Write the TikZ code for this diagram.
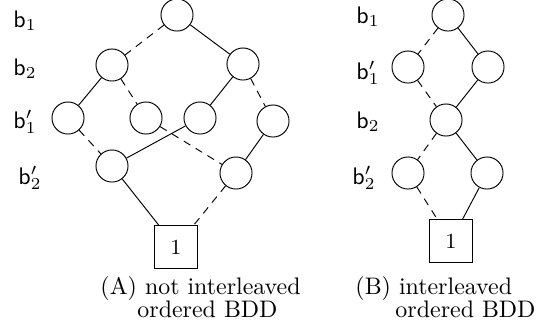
\documentclass[tikz,border=0pt]{standalone}
\begin{document}
\begin{tikzpicture}[x=0.418pt,y=-0.418pt,
  bnode/.style={circle,draw,minimum size=13.4pt,inner sep=0pt},
  term/.style={draw,minimum size=17.8pt,inner sep=0pt,font=\small},
  hi/.style={draw},
  lo/.style={draw,dash pattern=on 3.2pt off 2.6pt},
  lab/.style={anchor=base west,inner sep=0pt},
  captop/.style={anchor=base west,inner sep=0pt,text depth=0pt},
  capbot/.style={anchor=base west,inner sep=0pt,text height=5pt}]
\useasboundingbox (0,0) rectangle (538,329);
% left diagram
\node[bnode] (r) at (177,15) {};
\node[bnode] (a1) at (112,65) {};
\node[bnode] (a2) at (243,64) {};
\node[bnode] (c1) at (68,118) {};
\node[bnode] (c2) at (146,118) {};
\node[bnode] (c3) at (200,118) {};
\node[bnode] (c4) at (273,121) {};
\node[bnode] (d1) at (112,166) {};
\node[bnode] (d2) at (236,173) {};
\node[term] (t) at (176,247) {1};
\draw[lo] (r) -- (a1);
\draw[hi] (r) -- (a2);
\draw[hi] (a1) -- (c1);
\draw[lo] (a1) -- (c2);
\draw[hi] (a2) -- (c3);
\draw[lo] (a2) -- (c4);
\draw[lo] (c1) -- (d1);
\draw[lo] (c2) -- (d2);
\draw[hi] (c3) -- (d1);
\draw[hi] (c4) -- (d2);
\draw[hi] (d1) -- (t);
\draw[lo] (d2) -- (t);
\node[lab] (la1) at (13,27) {$\mathsf{b}_1$};
\node[lab] (la2) at (13,75) {$\mathsf{b}_2$};
\node[lab] (la3) at (13,128) {$\mathsf{b}_1'$};
\node[lab] (la4) at (18,184) {$\mathsf{b}_2'$};
% right diagram
\node[bnode] (R) at (448,15) {};
\node[bnode] (e1) at (408,67) {};
\node[bnode] (e2) at (488,67) {};
\node[bnode] (f) at (446,120) {};
\node[bnode] (g1) at (408,173) {};
\node[bnode] (g2) at (487,173) {};
\node[term] (T) at (451,241) {1};
\draw[lo] (R) -- (e1);
\draw[hi] (R) -- (e2);
\draw[lo] (e1) -- (f);
\draw[hi] (e2) -- (f);
\draw[lo] (f) -- (g1);
\draw[hi] (f) -- (g2);
\draw[lo] (g1) -- (T);
\draw[hi] (g2) -- (T);
\node[lab] (lb1) at (356,23) {$\mathsf{b}_1$};
\node[lab] (lb2) at (356,79) {$\mathsf{b}_1'$};
\node[lab] (lb3) at (356,128) {$\mathsf{b}_2$};
\node[lab] (lb4) at (352,184) {$\mathsf{b}_2'$};
% captions
\node[captop] (ca1) at (100,294) {(A) not interleaved};
\node[capbot] (ca2) at (137,317) {ordered BDD};
\node[captop] (cb1) at (355,294) {(B) interleaved};
\node[capbot] (cb2) at (395,317) {ordered BDD};
\end{tikzpicture}
\end{document}
